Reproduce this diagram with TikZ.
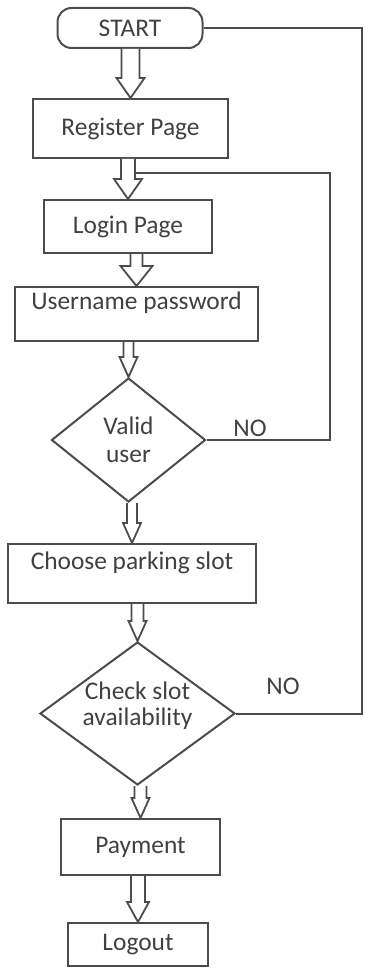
\documentclass[tikz,border=0pt]{standalone}
\usepackage{fontspec}
\setmainfont{Carlito}
\usetikzlibrary{shapes.geometric,calc}

\begin{document}
\begin{tikzpicture}[x=0.5pt, y=-0.5pt,
    every node/.style={text=black!75, font=\fontsize{12.7}{14}\selectfont},
    box/.style={draw=black!70, line width=1pt, inner sep=0pt, align=center},
    decision/.style={box, diamond, aspect=1.36},
    flow/.style={draw=black!70, line width=1pt},
    harrow/.style={draw=black!70, line width=0.9pt, fill=white}]
  \useasboundingbox (0,0) rectangle (364,968);
  \def\hollowArrow#1#2#3#4{\draw[harrow] let \p1=(#1.south), \p2=(#2.north) in
    (\x2-#3,\y1) -- (\x2-#3,\y2+10pt) -- (\x2-#4,\y2+10pt) -- (\x2,\y2)
    -- (\x2+#4,\y2+10pt) -- (\x2+#3,\y2+10pt) -- (\x2+#3,\y1);}

  \node[box, rounded corners=7pt, minimum width=72.5pt, minimum height=20pt] (start) at (130,28) {START};
  \node[box, minimum width=97.5pt, minimum height=29.5pt] (register) at (130.5,128.5) {Register Page};
  \node[box, minimum width=84pt, minimum height=26.5pt] (login) at (128,226.5) {Login Page};
  \node[box, minimum width=121.5pt, text height=11pt, text depth=16pt] (userpass) at (136.5,314) {Username password};
  \node[decision, minimum width=77pt, minimum height=62pt] (valid) at (128.5,440) {Valid\\user};
  \node[box, minimum width=124pt, text height=12.5pt, text depth=17pt] (choose) at (132,573.5) {Choose parking slot};
  \node[decision, minimum width=97.5pt, minimum height=71.5pt] (check) at (137.5,713.5)
    {\raisebox{-2.5pt}[9pt][15pt]{\begin{tabular}{@{}c@{}}Check slot\\[-1pt]availability\end{tabular}}};
  \node[box, minimum width=79.5pt, minimum height=28pt] (payment) at (140.5,847) {Payment};
  \node[box, minimum width=70pt, minimum height=21.5pt] (logout) at (138,944.5) {Logout};

  \node (noValid) at (250,428) {NO};
  \node (noCheck) at (283,686) {NO};

  \coordinate (loopCorner) at (330,173);
  \coordinate (rail) at (362,28);
  \draw[flow] (valid.east) -| (loopCorner) -- (loopCorner -| login.north);
  \draw[flow] (start.east) -| (check.east -| rail) -- (check.east);

  \hollowArrow{start}{register}{4.5pt}{7pt}
  \hollowArrow{register}{login}{3.5pt}{7pt}
  \hollowArrow{login}{userpass}{3pt}{8pt}
  \hollowArrow{userpass}{valid}{2.5pt}{4.5pt}
  \hollowArrow{valid}{choose}{2.5pt}{4.5pt}
  \hollowArrow{choose}{check}{3pt}{4.5pt}
  \hollowArrow{check}{payment}{3pt}{4.5pt}
  \hollowArrow{payment}{logout}{3.5pt}{5.5pt}
\end{tikzpicture}
\end{document}
